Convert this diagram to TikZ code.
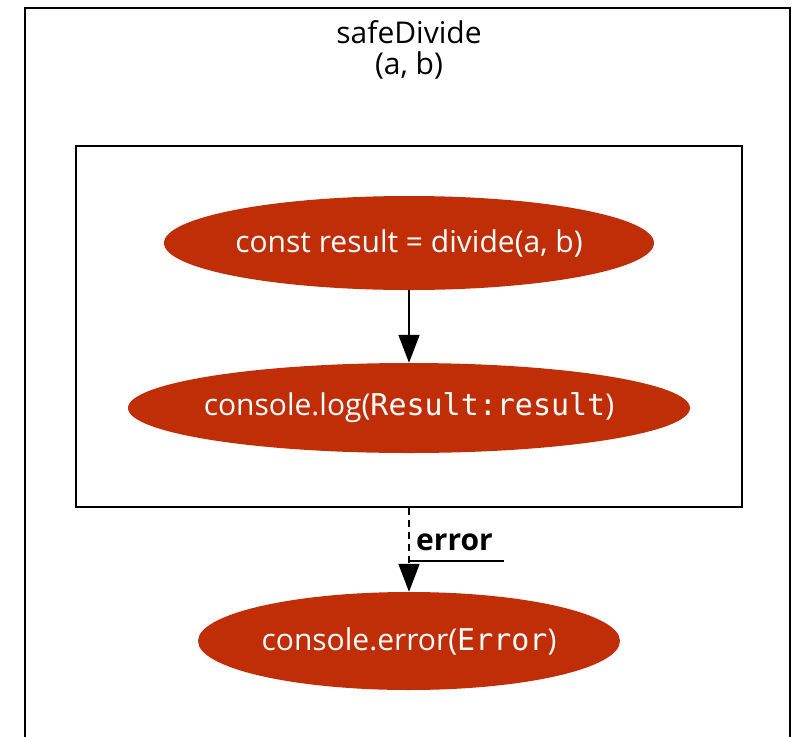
\documentclass[tikz,border=0pt]{standalone}
\usepackage{fontspec}
\setmainfont{Open Sans}
\newfontfamily\codemono{DejaVu Sans Mono}
\usetikzlibrary{shapes.geometric,arrows.meta}
\definecolor{nodered}{RGB}{191,46,6}
\tikzset{
  redell/.style={ellipse, fill=nodered, draw=none, inner sep=0pt, text=white,
    font=\fontsize{30}{34}\selectfont},
  clusterbox/.style={draw=black, line width=1.8pt, rectangle, inner sep=0pt},
  flow/.style={line width=1.8pt, -{Triangle[length=28pt,width=21pt]}},
  errflow/.style={flow, dash pattern=on 7pt off 5pt},
}
\begin{document}
\begin{tikzpicture}[x=1pt,y=-1pt]
\useasboundingbox (0,0) rectangle (796,737);
\fill[white] (0,0) rectangle (796,737);
% outer cluster (bottom edge is off the picture)
\draw[line width=1.8pt] (25,737) -- (25,8) -- (790,8) -- (790,737);
\node[font=\fontsize{30}{31}\selectfont, align=center] (title) at (409,50) {safeDivide\\(a, b)};
% inner cluster
\node[clusterbox, minimum width=666pt, minimum height=361pt] (trybox) at (409,326.5) {};
\node[redell, minimum width=490pt, minimum height=94pt] (e1) at (409,243)
  {\makebox[0pt]{const result = divide(a, b)}};
\node[redell, minimum width=562pt, minimum height=90pt] (e2) at (409,408)
  {\makebox[0pt]{console.log({\codemono Result:result})}};
\node[redell, minimum width=422pt, minimum height=98pt] (e3) at (409,641)
  {\makebox[0pt]{console.error({\codemono Error})}};
\draw[flow] (e1.south) -- (e2.north);
\draw[errflow] (trybox.south -| e3.north) -- (e3.north);
\node[font=\fontsize{30}{34}\selectfont\bfseries, anchor=base west, inner sep=0pt] (errlbl) at (416,550) {error};
\coordinate (ulend) at (504,561);
\draw[line width=1.3pt] (ulend) -- (ulend -| e3.north);
\end{tikzpicture}
\end{document}
